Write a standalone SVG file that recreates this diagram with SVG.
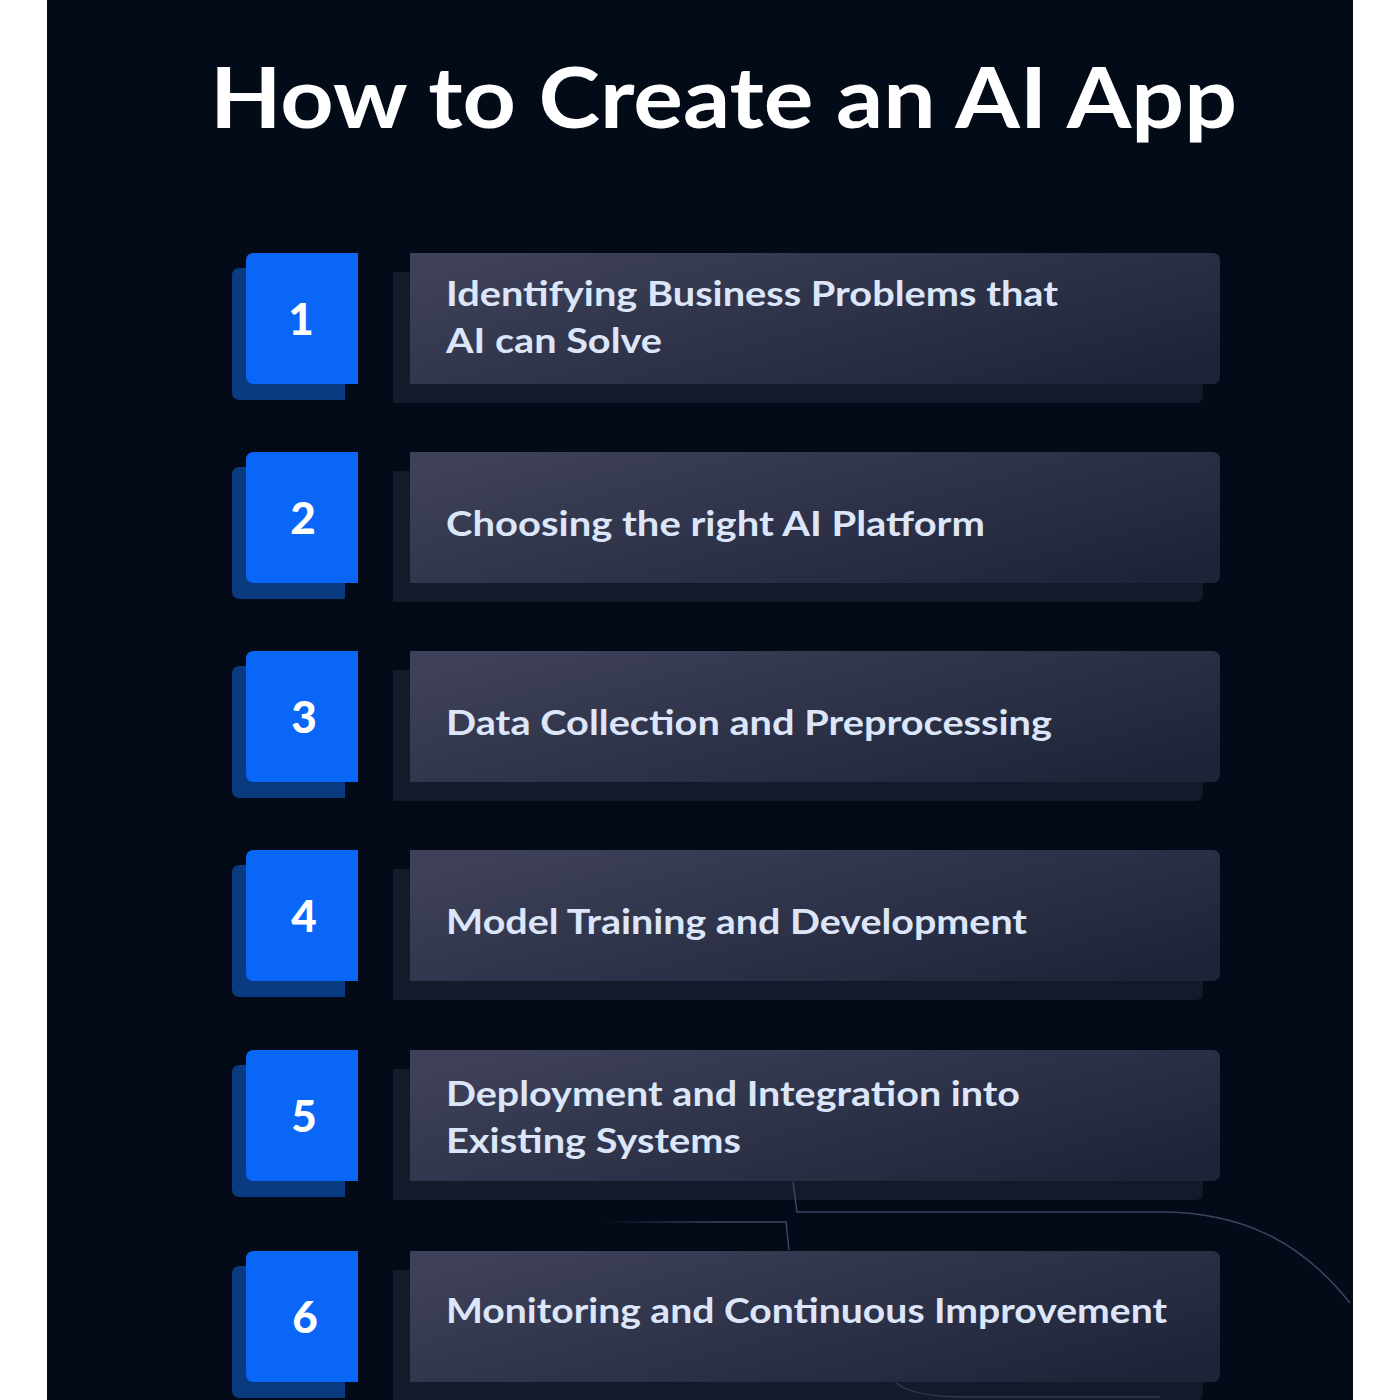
<svg xmlns="http://www.w3.org/2000/svg" width="1400" height="1400" viewBox="0 0 1400 1400">
<defs>
<linearGradient id="cardGrad" x1="0" y1="0.2" x2="1" y2="0.8">
<stop offset="0" stop-color="#3e4159"/>
<stop offset="0.55" stop-color="#2c3147"/>
<stop offset="1" stop-color="#1e2438"/>
</linearGradient>
<linearGradient id="fadeL" x1="0" y1="0" x2="1" y2="0">
<stop offset="0" stop-color="#3b4660" stop-opacity="0"/>
<stop offset="0.6" stop-color="#3b4660" stop-opacity="1"/>
</linearGradient>
<style>
.num{fill:#0a66f6}
.numsh{fill:#0a3a80}
.card{fill:url(#cardGrad)}
.cardsh{fill:#151a2b}
.ntxt{font-family:Lato,"Liberation Sans",sans-serif;font-weight:900;font-size:44px;fill:#ffffff;text-anchor:middle}
.ctxt{font-family:Lato,"Liberation Sans",sans-serif;font-weight:700;font-size:35px;fill:#dce6f8}
.deco{fill:none;stroke:#3b4660;stroke-width:1.5}
</style>
</defs>
<rect x="0" y="0" width="1400" height="1400" fill="#ffffff"/>
<rect x="47" y="0" width="1306" height="1400" fill="#030a18"/>
<text x="210" y="128" font-family="Lato,'Liberation Sans',sans-serif" font-weight="700" font-size="84" fill="#ffffff" textLength="1027" lengthAdjust="spacingAndGlyphs">How to Create an AI App</text>

<g id="step1">
<path class="numsh" d="M240,268 H345 V400 H240 Q232,400 232,392 V276 Q232,268 240,268 Z"/>
<path class="num" d="M254,253 H358 V384 H254 Q246,384 246,376 V261 Q246,253 254,253 Z"/>
<text class="ntxt" x="301" y="335">1</text>
<path class="cardsh" d="M393,272 H1195 Q1203,272 1203,280 V395 Q1203,403 1195,403 H393 Z"/>
<path class="card" d="M410,253 H1212 Q1220,253 1220,261 V376 Q1220,384 1212,384 H410 Z"/>
<text class="ctxt" x="446" y="306" textLength="612" lengthAdjust="spacingAndGlyphs">Identifying Business Problems that</text>
<text class="ctxt" x="446" y="353" textLength="216" lengthAdjust="spacingAndGlyphs">AI can Solve</text>
</g>

<g id="step2">
<path class="numsh" d="M240,467 H345 V599 H240 Q232,599 232,591 V475 Q232,467 240,467 Z"/>
<path class="num" d="M254,452 H358 V583 H254 Q246,583 246,575 V460 Q246,452 254,452 Z"/>
<text class="ntxt" x="303" y="534">2</text>
<path class="cardsh" d="M393,471 H1195 Q1203,471 1203,479 V594 Q1203,602 1195,602 H393 Z"/>
<path class="card" d="M410,452 H1212 Q1220,452 1220,460 V575 Q1220,583 1212,583 H410 Z"/>
<text class="ctxt" x="446" y="536" textLength="539" lengthAdjust="spacingAndGlyphs">Choosing the right AI Platform</text>
</g>

<g id="step3">
<path class="numsh" d="M240,666 H345 V798 H240 Q232,798 232,790 V674 Q232,666 240,666 Z"/>
<path class="num" d="M254,651 H358 V782 H254 Q246,782 246,774 V659 Q246,651 254,651 Z"/>
<text class="ntxt" x="304" y="733">3</text>
<path class="cardsh" d="M393,670 H1195 Q1203,670 1203,678 V793 Q1203,801 1195,801 H393 Z"/>
<path class="card" d="M410,651 H1212 Q1220,651 1220,659 V774 Q1220,782 1212,782 H410 Z"/>
<text class="ctxt" x="446" y="735" textLength="606" lengthAdjust="spacingAndGlyphs">Data Collection and Preprocessing</text>
</g>

<g id="step4">
<path class="numsh" d="M240,865 H345 V997 H240 Q232,997 232,989 V873 Q232,865 240,865 Z"/>
<path class="num" d="M254,850 H358 V981 H254 Q246,981 246,973 V858 Q246,850 254,850 Z"/>
<text class="ntxt" x="304" y="932">4</text>
<path class="cardsh" d="M393,869 H1195 Q1203,869 1203,877 V992 Q1203,1000 1195,1000 H393 Z"/>
<path class="card" d="M410,850 H1212 Q1220,850 1220,858 V973 Q1220,981 1212,981 H410 Z"/>
<text class="ctxt" x="446" y="934" textLength="581" lengthAdjust="spacingAndGlyphs">Model Training and Development</text>
</g>

<g id="step5">
<path class="numsh" d="M240,1065 H345 V1197 H240 Q232,1197 232,1189 V1073 Q232,1065 240,1065 Z"/>
<path class="num" d="M254,1050 H358 V1181 H254 Q246,1181 246,1173 V1058 Q246,1050 254,1050 Z"/>
<text class="ntxt" x="304" y="1132">5</text>
<path class="cardsh" d="M393,1069 H1195 Q1203,1069 1203,1077 V1192 Q1203,1200 1195,1200 H393 Z"/>
<path class="card" d="M410,1050 H1212 Q1220,1050 1220,1058 V1173 Q1220,1181 1212,1181 H410 Z"/>
<text class="ctxt" x="446" y="1106" textLength="574" lengthAdjust="spacingAndGlyphs">Deployment and Integration into</text>
<text class="ctxt" x="446" y="1153" textLength="295" lengthAdjust="spacingAndGlyphs">Existing Systems</text>
</g>

<g id="step6">
<path class="numsh" d="M240,1266 H345 V1398 H240 Q232,1398 232,1390 V1274 Q232,1266 240,1266 Z"/>
<path class="num" d="M254,1251 H358 V1382 H254 Q246,1382 246,1374 V1259 Q246,1251 254,1251 Z"/>
<text class="ntxt" x="305" y="1333">6</text>
<path class="cardsh" d="M393,1270 H1195 Q1203,1270 1203,1278 V1393 Q1203,1401 1195,1401 H393 Z"/>
<path class="card" d="M410,1251 H1212 Q1220,1251 1220,1259 V1374 Q1220,1382 1212,1382 H410 Z"/>
<text class="ctxt" x="446" y="1323" textLength="721" lengthAdjust="spacingAndGlyphs">Monitoring and Continuous Improvement</text>
</g>

<g id="connectors">
<path class="deco" d="M793,1182 L797,1212 L1160,1212 C1240,1212 1300,1240 1350,1303"/>
<path d="M600,1222 L786,1222 L789,1250" fill="none" stroke="url(#fadeL)" stroke-width="1.5"/>
<path class="deco" d="M896,1383 C910,1394 935,1397 965,1397 L1160,1397" opacity="0.7"/>
</g>
</svg>
